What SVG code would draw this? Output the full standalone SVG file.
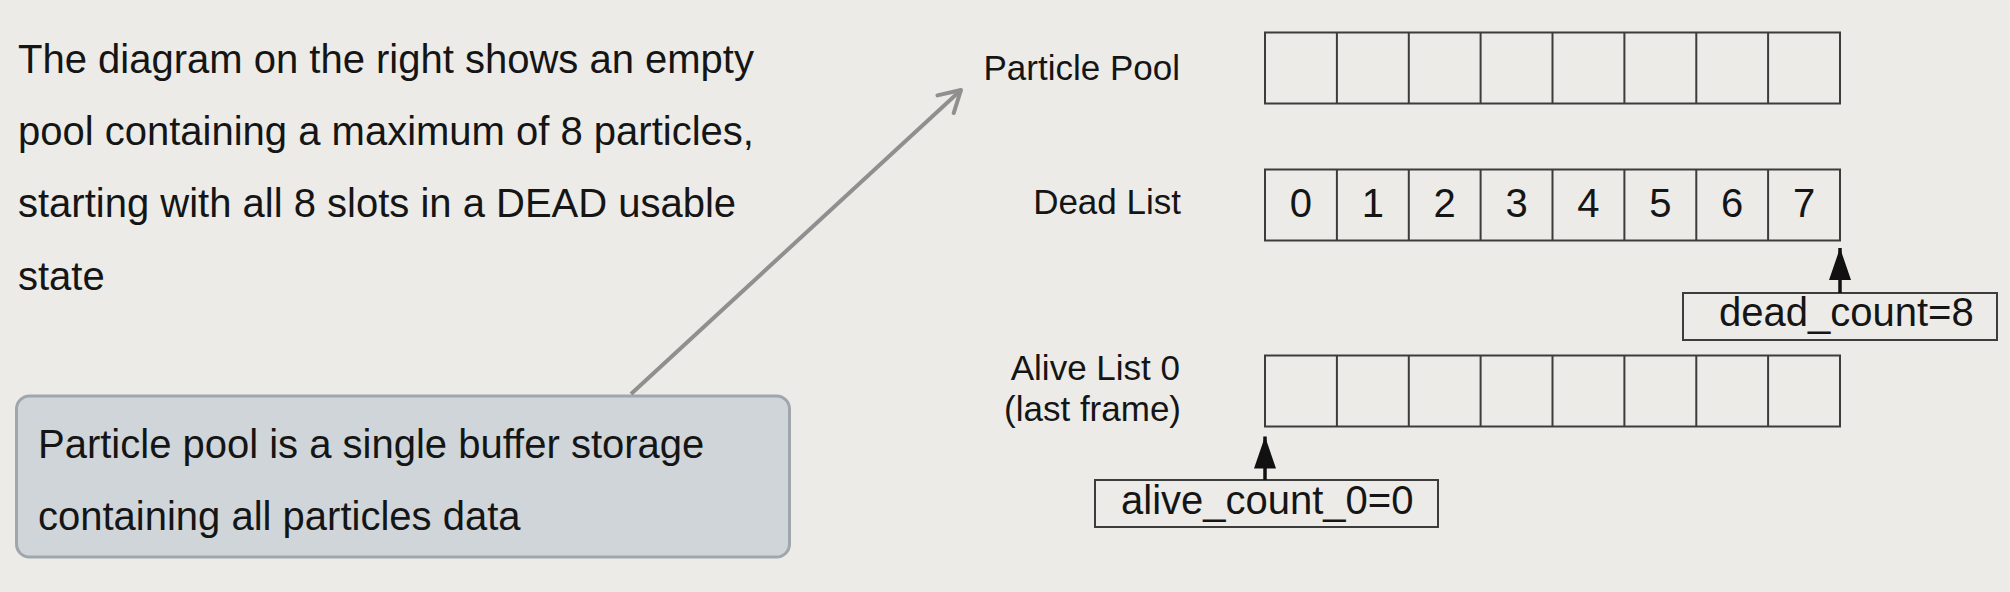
<svg xmlns="http://www.w3.org/2000/svg" width="2010" height="592" viewBox="0 0 2010 592">
<style>
text { font-family: "Liberation Sans", Arial, sans-serif; fill: #151515; }
.body { font-size: 40px; }
.lbl { font-size: 35px; text-anchor: end; }
.dig { font-size: 40px; text-anchor: middle; }
.cell { fill: none; stroke: #3c3c3c; stroke-width: 2; }
.cnt { fill: none; stroke: #3c3c3c; stroke-width: 2; }
.ptr { stroke: #111; stroke-width: 3.5; fill: none; }
.callout-line { stroke: #8f8f8f; stroke-width: 4; fill: none; }
</style>
<defs>
<marker id="solidHead" viewBox="-34 -12 36 24" refX="0" refY="0" markerWidth="36" markerHeight="24" markerUnits="userSpaceOnUse" orient="auto">
<path d="M0,0 L-32,-11 L-32,11 Z" fill="#111"/>
</marker>
<marker id="openHead" viewBox="-26 -16 30 32" refX="0" refY="0" markerWidth="30" markerHeight="32" markerUnits="userSpaceOnUse" orient="auto">
<path d="M-21,-12 L0,0 L-21,12" fill="none" stroke="#8f8f8f" stroke-width="4" stroke-linecap="round" stroke-linejoin="round"/>
</marker>
</defs>
<rect x="0" y="0" width="2010" height="592" fill="#ecebe7"/>

<g id="description">
<text class="body" x="18" y="73">The diagram on the right shows an empty</text>
<text class="body" x="18" y="145">pool containing a maximum of 8 particles,</text>
<text class="body" x="18" y="217">starting with all 8 slots in a DEAD usable</text>
<text class="body" x="18" y="290">state</text>
</g>

<g id="callout">
<rect x="16.5" y="396" width="773" height="161" rx="13" ry="13" fill="#cfd5d9" stroke="#9fa7ad" stroke-width="3"/>
<text class="body" x="38" y="458">Particle pool is a single buffer storage</text>
<text class="body" x="38" y="530">containing all particles data</text>
</g>

<g id="particle-pool">
<text class="lbl" x="1180" y="80">Particle Pool</text>
<rect class="cell" x="1265" y="32.5" width="575" height="71"/>
<path class="cell" d="M1336.9,32.5V103.5M1408.8,32.5V103.5M1480.6,32.5V103.5M1552.5,32.5V103.5M1624.4,32.5V103.5M1696.3,32.5V103.5M1768.1,32.5V103.5"/>
</g>

<g id="dead-list">
<text class="lbl" x="1181" y="214">Dead List</text>
<rect class="cell" x="1265" y="169.5" width="575" height="71"/>
<path class="cell" d="M1336.9,169.5V240.5M1408.8,169.5V240.5M1480.6,169.5V240.5M1552.5,169.5V240.5M1624.4,169.5V240.5M1696.3,169.5V240.5M1768.1,169.5V240.5"/>
<text class="dig" x="1300.9" y="217">0</text>
<text class="dig" x="1372.8" y="217">1</text>
<text class="dig" x="1444.7" y="217">2</text>
<text class="dig" x="1516.6" y="217">3</text>
<text class="dig" x="1588.4" y="217">4</text>
<text class="dig" x="1660.3" y="217">5</text>
<text class="dig" x="1732.2" y="217">6</text>
<text class="dig" x="1804.1" y="217">7</text>
</g>

<g id="alive-list">
<text class="lbl" x="1180" y="380">Alive List 0</text>
<text class="lbl" x="1181" y="421">(last frame)</text>
<rect class="cell" x="1265" y="355.5" width="575" height="71"/>
<path class="cell" d="M1336.9,355.5V426.5M1408.8,355.5V426.5M1480.6,355.5V426.5M1552.5,355.5V426.5M1624.4,355.5V426.5M1696.3,355.5V426.5M1768.1,355.5V426.5"/>
</g>

<g id="dead-count">
<rect class="cnt" x="1683" y="293" width="314" height="47"/>
<text class="body" x="1719" y="326">dead_count=8</text>
</g>

<g id="alive-count">
<rect class="cnt" x="1095" y="480" width="343" height="47"/>
<text class="body" x="1121" y="514">alive_count_0=0</text>
</g>

<g id="connectors">
<line class="callout-line" x1="631" y1="394" x2="961" y2="90" marker-end="url(#openHead)"/>
<line class="ptr" x1="1840" y1="293" x2="1840" y2="248" marker-end="url(#solidHead)"/>
<line class="ptr" x1="1265" y1="480" x2="1265" y2="436.5" marker-end="url(#solidHead)"/>
</g>
</svg>
